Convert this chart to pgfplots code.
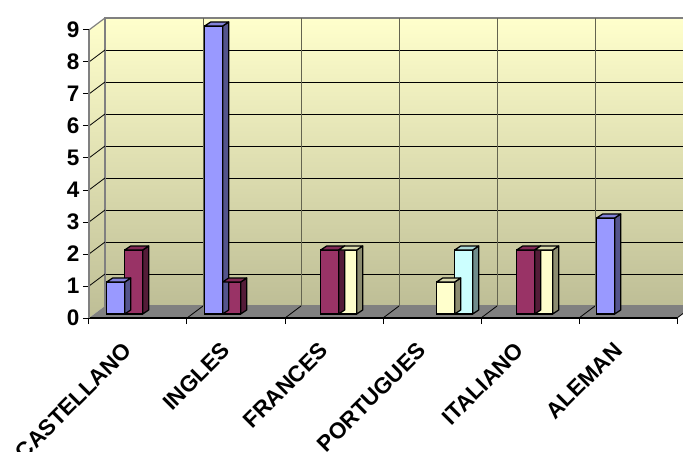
\documentclass[border=0pt]{standalone}
\usepackage{graphicx}
\usepackage{pgfplots}
\pgfplotsset{compat=1.18}
\usepackage{fontspec}
\setmainfont{Liberation Sans}

\definecolor{serA}{HTML}{9999FF}
\definecolor{serB}{HTML}{993366}
\definecolor{serC}{HTML}{FFFFCC}
\definecolor{serD}{HTML}{CCFFFF}
\definecolor{wallTop}{HTML}{FFFFCC}
\definecolor{wallBot}{RGB}{190,190,150}
\definecolor{floorGray}{RGB}{128,128,128}
\definecolor{wallEdge}{RGB}{128,128,128}
\definecolor{colGrid}{RGB}{100,100,80}

% side and top faces of a 3-D column; the mark sits on the column's top front edge
% #1 mark name, #2 bar shift, #3 colour
\newcommand\columnmark[3]{%
  \pgfdeclareplotmark{#1}{%
    \pgfmathsetlengthmacro\colh{\ry*32pt}%
    \pgfsetlinewidth{1.2pt}\pgfsetstrokecolor{black}\pgfsetroundjoin
    % side face
    \pgfsetfillcolor{#3!55!black}%
    \pgfpathmoveto{\pgfpoint{#2+9pt}{-\colh}}%
    \pgfpathlineto{\pgfpoint{#2+15pt}{-\colh+4pt}}%
    \pgfpathlineto{\pgfpoint{#2+15pt}{4pt}}%
    \pgfpathlineto{\pgfpoint{#2+9pt}{0pt}}%
    \pgfpathclose
    \pgfusepath{fill,stroke}%
    % top face
    \pgfsetfillcolor{#3!85!black}%
    \pgfpathmoveto{\pgfpoint{#2-9pt}{0pt}}%
    \pgfpathlineto{\pgfpoint{#2-3pt}{4pt}}%
    \pgfpathlineto{\pgfpoint{#2+15pt}{4pt}}%
    \pgfpathlineto{\pgfpoint{#2+9pt}{0pt}}%
    \pgfpathclose
    \pgfusepath{fill,stroke}%
  }}
\columnmark{colA}{-27pt}{serA}
\columnmark{colB}{-9pt}{serB}
\columnmark{colC}{9pt}{serC}
\columnmark{colD}{27pt}{serD}

\newcommand\lblfont{\fontsize{22.5}{27}\selectfont\bfseries}
\newcommand\slant[1]{\rotatebox{45}{#1}}

\begin{document}
\begin{tikzpicture}
\useasboundingbox (0,0) rectangle (683pt,451pt);
\clip (0,0) rectangle (683pt,451pt);

% back wall with grid
\begin{axis}[
  at={(105pt,145pt)}, anchor=south west, scale only axis,
  x=98pt, y=32pt, xmin=-0.5, xmax=5.5, ymin=0, ymax=9,
  enlargelimits=false,
  axis background/.style={shade, top color=wallTop, bottom color=wallBot},
  axis line style={draw=wallEdge, line width=1.2pt},
  xtick=\empty, ytick={1,...,8}, yticklabels={},
  major tick length=0pt,
  ymajorgrids, major grid style={black, line width=0.8pt},
  extra x ticks={0.5,1.5,...,4.5}, extra x tick labels={},
  extra x tick style={grid=major, major grid style={colGrid, line width=0.9pt}},
]
\end{axis}

% side wall, floor and front axes
\begin{axis}[
  at={(89pt,133pt)}, anchor=south west, scale only axis,
  x=98pt, y=32pt, xmin=-0.5, xmax=5.5, ymin=0, ymax=9,
  enlargelimits=false, clip=false, axis on top,
  axis x line*=bottom, axis y line*=left,
  x axis line style={black, line width=1.2pt, -},
  y axis line style={wallEdge, line width=1.2pt, -},
  tick align=outside, major tick length=6pt,
  tick style={black, line width=1pt},
  ytick={0,...,9},
  xtick={-0.5,0.5,...,5.5},
  xticklabels={\slant{CASTELLANO},\slant{INGLES},\slant{FRANCES},
    \slant{PORTUGUES},\slant{ITALIANO},\slant{ALEMAN},{}},
  /pgf/number format/assume math mode=true,
  ticklabel style={font=\lblfont},
  xticklabel style={anchor=north east, inner sep=0pt, xshift=44.7pt, yshift=-17pt},
]
\shade[top color=wallTop, bottom color=wallBot]
  (rel axis cs:0,0) -- (rel axis cs:0,1)
  -- ([shift={(16pt,12pt)}]rel axis cs:0,1)
  -- ([shift={(16pt,12pt)}]rel axis cs:0,0) -- cycle;
\fill[floorGray]
  (rel axis cs:0,0) -- (rel axis cs:1,0)
  -- ([shift={(16pt,12pt)}]rel axis cs:1,0)
  -- ([shift={(16pt,12pt)}]rel axis cs:0,0) -- cycle;
\draw[wallEdge, line width=1.2pt]
  ([shift={(16pt,12pt)}]rel axis cs:0,0) -- ([shift={(16pt,12pt)}]rel axis cs:0,1);
\pgfplotsinvokeforeach{1,...,8}{%
  \draw[black, line width=0.8pt] (axis cs:-0.5,#1) -- ([shift={(16pt,12pt)}]axis cs:-0.5,#1);}
\draw[wallEdge, line width=1.2pt] (axis cs:-0.5,9) -- ([shift={(16pt,12pt)}]axis cs:-0.5,9);
\pgfplotsinvokeforeach{0.5,1.5,...,5.5}{%
  \draw[black, line width=0.8pt] (axis cs:#1,0) -- ([shift={(16pt,12pt)}]axis cs:#1,0);}
\end{axis}

% columns
\begin{axis}[
  at={(93.7pt,137pt)}, anchor=south west, scale only axis,
  x=98pt, y=32pt, xmin=-0.5, xmax=5.5, ymin=0, ymax=9,
  enlargelimits=false, clip=false, hide axis,
  every axis plot/.append style={line width=1.2pt, draw=black},
]
\addplot[ybar, bar width=18pt, bar shift=-27pt, fill=serA] coordinates {(0,1) (1,9) (5,3)};
\addplot[only marks, mark=colA, visualization depends on={rawy \as \ry}] coordinates {(0,1) (1,9) (5,3)};
\addplot[ybar, bar width=18pt, bar shift=-9pt, fill=serB] coordinates {(0,2) (1,1) (2,2) (4,2)};
\addplot[only marks, mark=colB, visualization depends on={rawy \as \ry}] coordinates {(0,2) (1,1) (2,2) (4,2)};
\addplot[ybar, bar width=18pt, bar shift=9pt, fill=serC] coordinates {(2,2) (3,1) (4,2)};
\addplot[only marks, mark=colC, visualization depends on={rawy \as \ry}] coordinates {(2,2) (3,1) (4,2)};
\addplot[ybar, bar width=18pt, bar shift=27pt, fill=serD] coordinates {(3,2)};
\addplot[only marks, mark=colD, visualization depends on={rawy \as \ry}] coordinates {(3,2)};
\end{axis}
\end{tikzpicture}
\end{document}
